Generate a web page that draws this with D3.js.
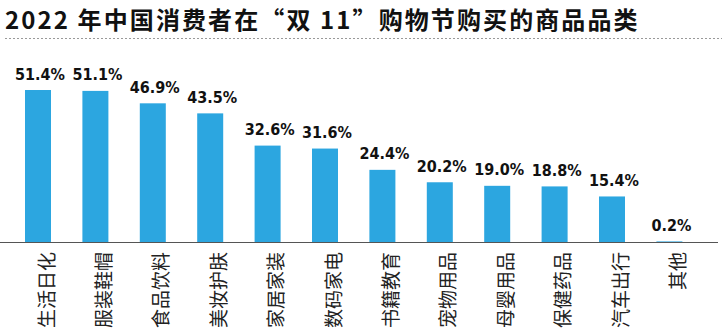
<!DOCTYPE html>
<html><head><meta charset="utf-8">
<script src="https://cdn.jsdelivr.net/npm/d3@7/dist/d3.min.js"></script>
<style>body{margin:0;background:#fff}svg{display:block}</style>
</head><body><svg id="c" width="728" height="335"></svg>
<script>
const categories = ["生活日化","服装鞋帽","食品饮料","美妆护肤","家居家装","数码家电","书籍教育","宠物用品","母婴用品","保健药品","汽车出行","其他"];
const values = [51.4,51.1,46.9,43.5,32.6,31.6,24.4,20.2,19.0,18.8,15.4,0.2];
const title = "2022 年中国消费者在“双 11”购物节购买的商品品类";

const svg = d3.select("#c");
svg.append("text").attr("x",5).attr("y",29)
  .attr("font-family","'Noto Sans CJK SC'").attr("font-weight","bold").attr("font-size",24)
  .attr("letter-spacing","2.1px")
  .attr("fill","#111").text(title);
svg.append("line").attr("x1",5).attr("x2",722).attr("y1",38.5).attr("y2",38.5)
  .attr("stroke","#999").attr("stroke-width",1).attr("stroke-dasharray","2,2");

const step = 57.4;
const x = d3.scaleBand().domain(categories).range([0, step*(12-0.547+0.871)])
  .paddingInner(0.547).paddingOuter(0.4355);
const y = d3.scaleLinear().domain([0,55]).range([242, 242-55*2.957]);

svg.selectAll("rect.bar").data(values).join("rect").attr("class","bar")
  .attr("x",(d,i)=>x(categories[i])).attr("width",x.bandwidth())
  .attr("y",d=>y(d)).attr("height",d=>y(0)-y(d)).attr("fill","#2ca6e0");

svg.selectAll("text.val").data(values).join("text").attr("class","val")
  .attr("x",(d,i)=>x(categories[i])+x.bandwidth()/2+2).attr("y",d=>y(d)-10.5)
  .attr("text-anchor","middle").attr("font-family","'DejaVu Sans Condensed','DejaVu Sans'")
  .attr("font-stretch","condensed").attr("font-weight","bold")
  .attr("font-size",16).attr("fill","#111").text(d=>d.toFixed(1)+"%");

svg.append("line").attr("x1",0).attr("x2",718).attr("y1",242.5).attr("y2",242.5)
  .attr("stroke","#555").attr("stroke-width",1.2);

const xAxis = d3.axisBottom(x).tickSize(0).tickPadding(0);
const g = svg.append("g").attr("transform","translate(0,242)").call(xAxis);
g.select(".domain").remove();
g.selectAll(".tick text")
  .attr("font-family","'Noto Sans CJK SC'").attr("font-size",19).attr("fill","#222")
  .attr("text-anchor","end").attr("dy","0.35em")
  .attr("transform","translate(9,10) rotate(-90)")
  .attr("x",0).attr("y",0);
</script></body></html>
